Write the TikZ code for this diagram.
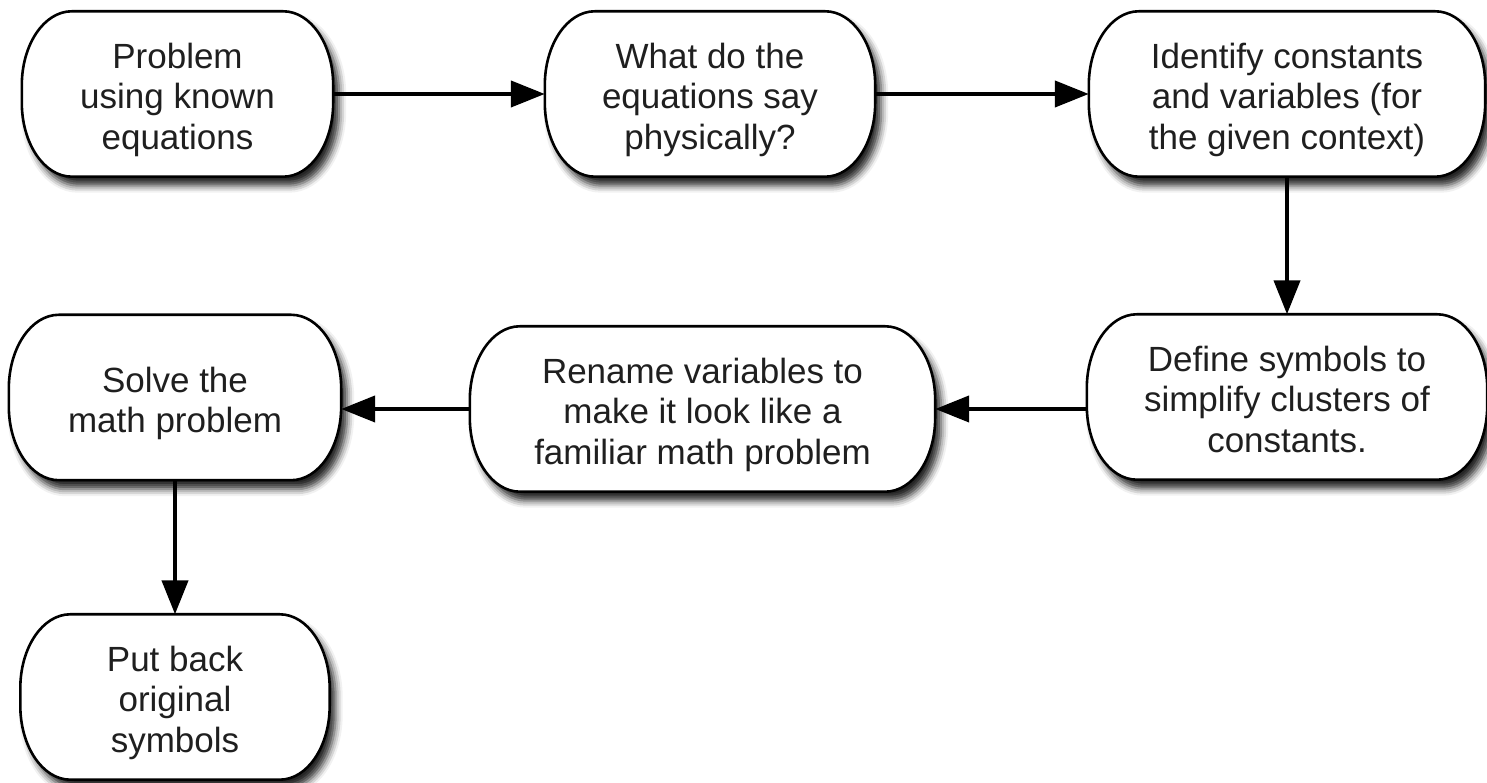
\documentclass[tikz,border=0pt]{standalone}
\usepackage{fontspec}
\setmainfont{Liberation Sans}
\usetikzlibrary{arrows.meta,shadows.blur,backgrounds}

\tikzset{
  box/.style={rectangle, inner sep=0pt, minimum height=165pt, align=center,
    text=black!88, font=\fontsize{35}{40.5}\selectfont},
  pill/.style={fill=white, draw=black, line width=2.6pt,
    blur shadow={shadow xshift=6pt, shadow yshift=-9pt,
      shadow blur radius=7pt, shadow opacity=85}},
  arr/.style={line width=4.2pt, -{Triangle[length=34pt,width=26pt]}},
}

% centred lines of a label, set a little below the box centre
\newcommand{\boxtext}[1]{\raisebox{-13pt}[0pt][0pt]{\begin{tabular}{@{}c@{}}#1\end{tabular}}}

% outline of a pill-shaped box around node #1, corners are quarter ellipses
\newcommand{\pillaround}[1]{%
  \path[pill]
    ([xshift=50pt]#1.north west) -- ([xshift=-50pt]#1.north east)
    arc[start angle=90, end angle=0, x radius=50pt, y radius=74pt]
    -- ([yshift=74pt]#1.south east)
    arc[start angle=0, end angle=-90, x radius=50pt, y radius=74pt]
    -- ([xshift=50pt]#1.south west)
    arc[start angle=270, end angle=180, x radius=50pt, y radius=74pt]
    -- ([yshift=-74pt]#1.north west)
    arc[start angle=180, end angle=90, x radius=50pt, y radius=74pt]
    -- cycle;}

\begin{document}
\begin{tikzpicture}[x=1pt, y=1pt]
\useasboundingbox (0,0) rectangle (1487,783);

\node[box, minimum width=311pt] (n1) at (177.5,689) {\boxtext{Problem\\using known\\equations}};
\node[box, minimum width=330pt] (n2) at (710,689) {\boxtext{What do the\\equations say\\physically?}};
\node[box, minimum width=396pt] (n3) at (1287,689) {\boxtext{Identify constants\\and variables (for\\the given context)}};
\node[box, minimum width=400pt] (n4) at (1287,386) {\boxtext{Define symbols to\\simplify clusters of\\constants.}};
\node[box, minimum width=465pt] (n5) at (702.5,374) {\boxtext{Rename variables to\\make it look like a\\familiar math problem}};
\node[box, minimum width=332pt] (n6) at (175,385.5) {\boxtext{Solve the\\math problem}};
\node[box, minimum width=309pt] (n7) at (175,86) {\boxtext{Put back\\original\\symbols}};

\begin{scope}[on background layer]
  \foreach \n in {n1,n2,n3,n4,n5,n6,n7} {\pillaround{\n}}
\end{scope}

\draw[arr] (n1.east) -- (n2.west);
\draw[arr] (n2.east) -- (n3.west);
\draw[arr] (n3.south) -- (n4.north);
\draw[arr] (n4.west |- n5.east) -- (n5.east);
\draw[arr] (n5.west) -- (n5.west -| n6.east);
\draw[arr] (n6.south) -- (n7.north);
\end{tikzpicture}
\end{document}
